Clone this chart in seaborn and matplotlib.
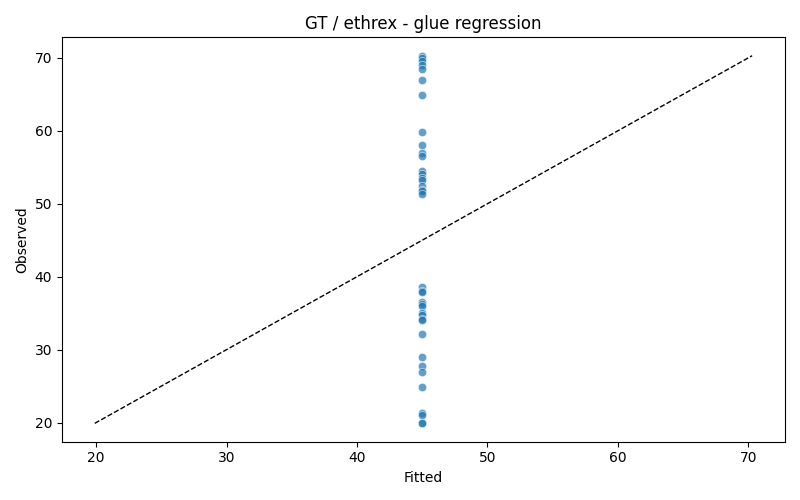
import numpy as np
import pandas as pd
import matplotlib
matplotlib.use("Agg")
import matplotlib.pyplot as plt
import seaborn as sns

observed = [70.3, 70.0, 69.6, 69.0, 68.5, 67.0, 64.9, 59.8, 58.1, 56.9, 56.6,
            54.5, 54.1, 53.6, 53.3, 52.4, 51.9, 51.7, 51.3,
            38.6, 38.0, 37.9, 36.6, 36.3, 36.0, 35.0, 34.8, 34.2, 34.0,
            32.2, 29.0, 27.8, 26.9, 24.9, 21.3, 21.1, 20.0, 19.9]
fitted = [45.0, 45.0, 45.0, 45.0, 45.0, 45.0, 45.0, 45.0, 45.0, 45.0, 45.0,
          45.0, 45.0, 45.0, 45.0, 45.0, 45.0, 45.0, 45.0,
          45.0, 45.0, 45.0, 45.0, 45.0, 45.0, 45.0, 45.0, 45.0, 45.0,
          45.0, 45.0, 45.0, 45.0, 45.0, 45.0, 45.0, 45.0, 45.0]

df = pd.DataFrame({"Fitted": fitted, "Observed": observed})

fig, ax = plt.subplots(figsize=(8, 5), dpi=100)
sns.scatterplot(data=df, x="Fitted", y="Observed", alpha=0.7, ax=ax)

# identity line
lo = min(df["Fitted"].min(), df["Observed"].min())
hi = max(df["Fitted"].max(), df["Observed"].max())
ax.plot([lo, hi], [lo, hi], "k--", linewidth=1)

ax.set_title("GT / ethrex - glue regression")
ax.set_xlabel("Fitted")
ax.set_ylabel("Observed")

plt.tight_layout()
plt.savefig("out.png")
